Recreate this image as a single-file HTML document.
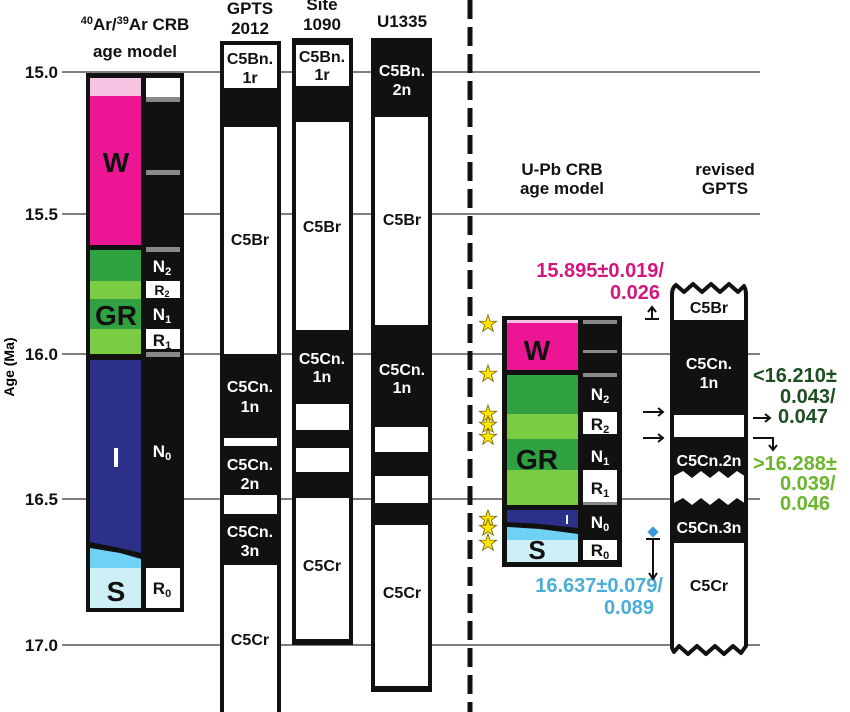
<!DOCTYPE html>
<html><head><meta charset="utf-8"><style>
html,body{margin:0;padding:0;background:#fff;width:850px;height:712px;overflow:hidden}
svg text{font-family:"Liberation Sans",sans-serif;font-weight:bold}
</style></head><body>
<svg width="850" height="712" viewBox="0 0 850 712" xmlns="http://www.w3.org/2000/svg">
<defs>
<polygon id="st" points="0,-9 2.1,-2.9 8.6,-2.8 3.4,1.1 5.3,7.3 0,3.6 -5.3,7.3 -3.4,1.1 -8.6,-2.8 -2.1,-2.9" fill="#ffe600" stroke="#6b5a00" stroke-width="0.8"/>
</defs>
<g stroke="#555" stroke-width="1.5">
<line x1="62" y1="72" x2="760" y2="72"/>
<line x1="62" y1="214" x2="760" y2="214"/>
<line x1="62" y1="354" x2="760" y2="354"/>
<line x1="62" y1="499" x2="760" y2="499"/>
<line x1="62" y1="645" x2="760" y2="645"/>
</g>
<g font-size="17" text-anchor="end" fill="#111">
<text x="58" y="78">15.0</text>
<text x="58" y="220">15.5</text>
<text x="58" y="360">16.0</text>
<text x="58" y="505">16.5</text>
<text x="58" y="651">17.0</text>
</g>
<text x="14" y="367" font-size="14" text-anchor="middle" transform="rotate(-90 14 367)">Age (Ma)</text>

<g font-size="17" text-anchor="middle" fill="#111">
<text x="135" y="30"><tspan font-size="11" dy="-6">40</tspan><tspan dy="6">Ar/</tspan><tspan font-size="11" dy="-6">39</tspan><tspan dy="6">Ar CRB</tspan></text>
<text x="135" y="57">age model</text>
<text x="250" y="14">GPTS</text>
<text x="250" y="34">2012</text>
<text x="322" y="10">Site</text>
<text x="322" y="30">1090</text>
<text x="402" y="27">U1335</text>
<text x="562" y="175">U-Pb CRB</text>
<text x="562" y="194">age model</text>
<text x="725" y="175">revised</text>
<text x="725" y="194">GPTS</text>
</g>

<rect x="86" y="73" width="98" height="539" fill="#111"/>
<rect x="90" y="78" width="51" height="18" fill="#f7c3e3"/>
<rect x="90" y="96" width="51" height="149" fill="#ec1593"/>
<rect x="90" y="250" width="51" height="31" fill="#2fa141"/>
<rect x="90" y="281" width="51" height="18" fill="#7ccc43"/>
<rect x="90" y="299" width="51" height="30" fill="#2fa141"/>
<rect x="90" y="329" width="51" height="25" fill="#7ccc43"/>
<path d="M90 360 H141 V553 L120 548 L90 542 Z" fill="#2b3189"/>
<path d="M90 548 L120 553 L141 559 V568 H90 Z" fill="#6fd2f4"/>
<rect x="90" y="568" width="51" height="40" fill="#ceeff6"/>
<rect x="146" y="78" width="34" height="19" fill="#fff"/>
<g fill="#888">
<rect x="146" y="97" width="34" height="5"/>
<rect x="146" y="170" width="34" height="5"/>
<rect x="146" y="247" width="34" height="5"/>
<rect x="146" y="352" width="34" height="5"/>
</g>
<rect x="146" y="281" width="34" height="17" fill="#fff"/>
<rect x="146" y="329" width="34" height="20" fill="#fff"/>
<rect x="146" y="568" width="34" height="40" fill="#fff"/>
<g font-size="28" text-anchor="middle">
<text x="116" y="172" fill="#111">W</text>
<text x="116" y="325" fill="#111">GR</text>
<text x="116" y="467" fill="#fff">I</text>
<text x="116" y="601" fill="#111">S</text>
</g>
<g font-size="17" text-anchor="middle">
<text x="162" y="272" fill="#fff">N<tspan font-size="11" dy="3">2</tspan></text>
<text x="162" y="295" fill="#111" font-size="14">R<tspan font-size="9" dy="2">2</tspan></text>
<text x="162" y="320" fill="#fff">N<tspan font-size="11" dy="3">1</tspan></text>
<text x="162" y="346" fill="#111">R<tspan font-size="11" dy="3">1</tspan></text>
<text x="162" y="457" fill="#fff">N<tspan font-size="11" dy="3">0</tspan></text>
<text x="162" y="594" fill="#111">R<tspan font-size="11" dy="3">0</tspan></text>
</g>

<rect x="220" y="41" width="61" height="671" fill="#111"/>
<g fill="#fff">
<rect x="224" y="45" width="53" height="43"/>
<rect x="224" y="127" width="53" height="227"/>
<rect x="224" y="438" width="53" height="8"/>
<rect x="224" y="495" width="53" height="19"/>
<rect x="224" y="565" width="53" height="147"/>
</g>
<rect x="292" y="38" width="61" height="607" fill="#111"/>
<g fill="#fff">
<rect x="296" y="45" width="53" height="41"/>
<rect x="296" y="122" width="53" height="208"/>
<rect x="296" y="404" width="53" height="26"/>
<rect x="296" y="448" width="53" height="24"/>
<rect x="296" y="498" width="53" height="141"/>
</g>
<rect x="371" y="38" width="61" height="654" fill="#111"/>
<g fill="#fff">
<rect x="375" y="117" width="53" height="208"/>
<rect x="375" y="427" width="53" height="25"/>
<rect x="375" y="476" width="53" height="27"/>
<rect x="375" y="525" width="53" height="161"/>
</g>
<g font-size="16" text-anchor="middle">
<g fill="#111">
<text x="250" y="64">C5Bn.</text><text x="250" y="83">1r</text>
<text x="250" y="245">C5Br</text>
<text x="250" y="645">C5Cr</text>
<text x="322" y="62">C5Bn.</text><text x="322" y="80">1r</text>
<text x="322" y="232">C5Br</text>
<text x="322" y="571">C5Cr</text>
<text x="402" y="225">C5Br</text>
<text x="402" y="598">C5Cr</text>
</g>
<g fill="#fff">
<text x="250" y="392">C5Cn.</text><text x="250" y="412">1n</text>
<text x="250" y="470">C5Cn.</text><text x="250" y="489">2n</text>
<text x="250" y="537">C5Cn.</text><text x="250" y="556">3n</text>
<text x="322" y="364">C5Cn.</text><text x="322" y="382">1n</text>
<text x="402" y="76">C5Bn.</text><text x="402" y="95">2n</text>
<text x="402" y="375">C5Cn.</text><text x="402" y="393">1n</text>
</g>
</g>

<line x1="470" y1="0" x2="470" y2="712" stroke="#111" stroke-width="5" stroke-dasharray="19,8"/>

<rect x="502" y="316" width="120" height="251" fill="#111"/>
<rect x="507" y="320" width="71" height="3" fill="#f7c3e3"/>
<rect x="507" y="323" width="71" height="47" fill="#ec1593"/>
<rect x="507" y="375" width="71" height="39" fill="#2fa141"/>
<rect x="507" y="414" width="71" height="25" fill="#7ccc43"/>
<rect x="507" y="439" width="71" height="31" fill="#2fa141"/>
<rect x="507" y="470" width="71" height="35" fill="#7ccc43"/>
<path d="M507 510 H578 V528 L540 524 L507 522 Z" fill="#2b3189"/>
<path d="M507 527 L540 529 L578 534 V540 H507 Z" fill="#6fd2f4"/>
<rect x="507" y="540" width="71" height="22" fill="#ceeff6"/>
<g fill="#888">
<rect x="583" y="320" width="34" height="4"/>
<rect x="583" y="350" width="34" height="3"/>
<rect x="583" y="373" width="34" height="4"/>
<rect x="583" y="502" width="34" height="3"/>
</g>
<rect x="583" y="412" width="34" height="22" fill="#fff"/>
<rect x="583" y="470" width="34" height="32" fill="#fff"/>
<rect x="583" y="540" width="34" height="20" fill="#fff"/>
<g text-anchor="middle">
<text x="537" y="360" font-size="28" fill="#111">W</text>
<text x="537" y="469" font-size="28" fill="#111">GR</text>
<text x="567" y="524" font-size="13" fill="#fff">I</text>
<text x="537" y="559" font-size="26" fill="#111">S</text>
<g font-size="17">
<text x="600" y="400" fill="#fff">N<tspan font-size="11" dy="3">2</tspan></text>
<text x="600" y="430" fill="#111">R<tspan font-size="11" dy="3">2</tspan></text>
<text x="600" y="462" fill="#fff">N<tspan font-size="11" dy="3">1</tspan></text>
<text x="600" y="494" fill="#111">R<tspan font-size="11" dy="3">1</tspan></text>
<text x="600" y="528" fill="#fff">N<tspan font-size="11" dy="3">0</tspan></text>
<text x="600" y="556" fill="#111">R<tspan font-size="11" dy="3">0</tspan></text>
</g>
</g>
<use href="#st" x="488" y="324"/>
<use href="#st" x="488" y="374"/>
<use href="#st" x="488" y="414"/>
<use href="#st" x="488" y="425"/>
<use href="#st" x="488" y="437"/>
<use href="#st" x="488" y="519"/>
<use href="#st" x="488" y="528"/>
<use href="#st" x="488" y="543"/>

<g font-size="20" font-weight="normal" text-anchor="end">
<text x="664" y="277" fill="#d4167f">15.895±0.019/</text>
<text x="660" y="299" fill="#d4167f">0.026</text>
<text x="663" y="592" fill="#4aaed8">16.637±0.079/</text>
<text x="654" y="614" fill="#4aaed8">0.089</text>
</g>
<g stroke="#111" stroke-width="2" fill="none">
<line x1="645" y1="319" x2="659" y2="319"/>
<line x1="652" y1="319" x2="652" y2="308"/>
<path d="M648 312 L652 307 L656 312"/>
<line x1="646" y1="539" x2="660" y2="539"/>
<line x1="653" y1="539" x2="653" y2="578"/>
<path d="M649 573 L653 579 L657 573"/>
<line x1="643" y1="412" x2="663" y2="412"/>
<path d="M658 408 L663 412 L658 416"/>
<line x1="643" y1="438" x2="663" y2="438"/>
<path d="M658 434 L663 438 L658 442"/>
<line x1="753" y1="418" x2="770" y2="418"/>
<path d="M765 414 L770 418 L765 422"/>
<path d="M753 438 H773 V449"/>
<path d="M769 445 L773 450 L777 445"/>
</g>
<rect x="649" y="528" width="8" height="8" fill="#3d9ad6" transform="rotate(45 653 532)"/>

<!-- revised GPTS -->
<path d="M672 294 Q672 288 676 285 L684 292 L693 284 L702 292 L711 284 L720 292 L729 284 L738 292 L744 286 Q746 290 746 294 V646 L741 653 L733 646 L724 654 L715 646 L706 654 L697 646 L688 654 L679 646 L674 652 L672 648 Z" fill="#fff" stroke="#111" stroke-width="4" stroke-linejoin="round"/>
<path d="M672 320 H746 V415 H672 Z M672 437 H746 V477 L737 471 L728 478 L719 471 L710 478 L701 471 L692 478 L683 471 L672 477 Z M672 504 L683 498 L692 505 L701 498 L710 505 L719 498 L728 505 L737 498 L746 504 V543 H672 Z" fill="#111"/>
<g font-size="16" text-anchor="middle">
<text x="709" y="313" fill="#111">C5Br</text>
<text x="709" y="369" fill="#fff">C5Cn.</text>
<text x="709" y="388" fill="#fff">1n</text>
<text x="709" y="466" fill="#fff">C5Cn.2n</text>
<text x="709" y="533" fill="#fff">C5Cn.3n</text>
<text x="709" y="591" fill="#111">C5Cr</text>
</g>
<g font-size="20">
<text x="753" y="382" fill="#1f4e24">&lt;16.210±</text>
<text x="780" y="403" fill="#1f4e24">0.043/</text>
<text x="778" y="423" fill="#1f4e24">0.047</text>
<text x="753" y="470" fill="#6cb52d">&gt;16.288±</text>
<text x="780" y="490" fill="#6cb52d">0.039/</text>
<text x="780" y="510" fill="#6cb52d">0.046</text>
</g>
</svg>
</body></html>
